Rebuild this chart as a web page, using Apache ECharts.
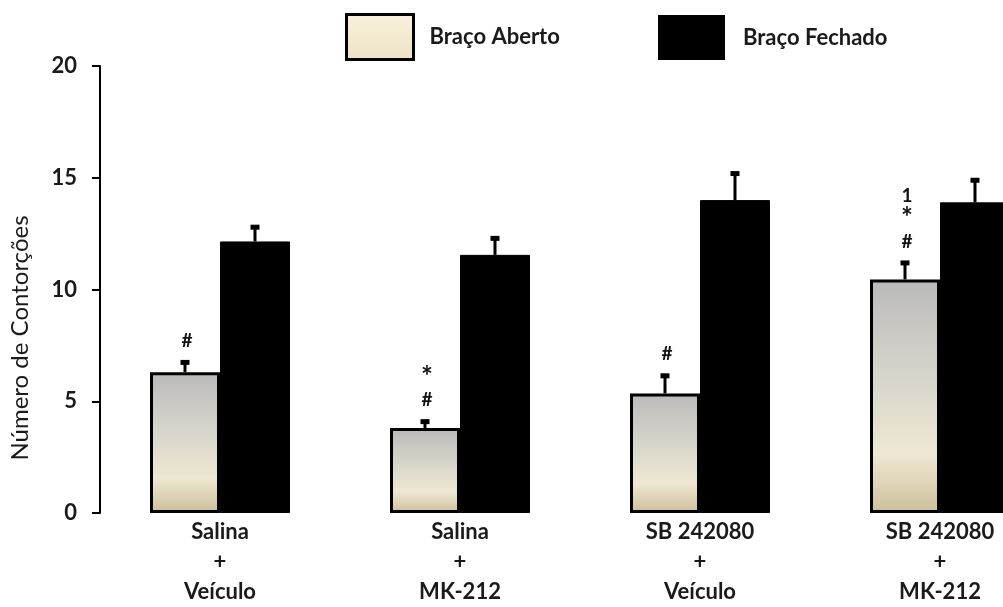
<!DOCTYPE html>
<html>
<head>
<meta charset="utf-8">
<script src="https://cdn.jsdelivr.net/npm/echarts@6/dist/echarts.min.js"></script>
<style>
  html, body { margin: 0; padding: 0; background: #ffffff; }
  #chart { width: 1003px; height: 607px; }
</style>
</head>
<body>
<div id="chart"></div>
<script>
// Treatment groups (category labels, three lines each)
const groups = ['Salina\n+\nVeículo', 'Salina\n+\nMK-212', 'SB 242080\n+\nVeículo', 'SB 242080\n+\nMK-212'];
// Braço Aberto: mean and SEM
const abertoMean = [6.3, 3.8, 5.35, 10.45];
const abertoSem = [0.55, 0.4, 0.9, 0.85];
// Braço Fechado: mean and SEM
const fechadoMean = [12.15, 11.55, 14.0, 13.9];
const fechadoSem = [0.75, 0.85, 1.3, 1.1];
// Significance marks above the open-arm bars (top to bottom)
const marks = [['#'], ['*', '#'], ['#'], ['1', '*', '#']];
// Value axis range
const yMin = 0, yMax = 20, yStep = 5;

const FONT = 'Lato, "Open Sans", sans-serif';
const BAR_W = 70;

const abertoFill = new echarts.graphic.LinearGradient(0, 0, 0, 1, [
  { offset: 0, color: '#bababa' },
  { offset: 0.45, color: '#d9d7cc' },
  { offset: 0.75, color: '#eee7d3' },
  { offset: 1, color: '#cdbf9b' }
]);
const legendAbertoFill = new echarts.graphic.LinearGradient(0, 0, 0, 1, [
  { offset: 0, color: '#f7f1df' },
  { offset: 1, color: '#eee2c3' }
]);

function errorBarItem(side) {
  return function (params, api) {
    const idx = api.value(0);
    const base = api.coord([idx, api.value(1)]);
    const top = api.coord([idx, api.value(1) + api.value(2)]);
    const x = base[0] + side * BAR_W / 2;
    return {
      type: 'group',
      children: [
        { type: 'line', shape: { x1: x, y1: base[1], x2: x, y2: top[1] + 2 },
          style: { stroke: '#000', lineWidth: 3 } },
        { type: 'rect', shape: { x: x - 4.5, y: top[1], width: 9, height: 5 },
          style: { fill: '#000' } }
      ]
    };
  };
}

const chart = echarts.init(document.getElementById('chart'));
chart.setOption({
  animation: false,
  backgroundColor: '#ffffff',
  grid: { left: 100, width: 960, top: 66, bottom: 94, containLabel: false, outerBoundsMode: 'none' },
  legend: [
    {
      left: 345, top: 13, padding: 0, itemWidth: 67, itemHeight: 45, itemGap: 0,
      selectedMode: false,
      textStyle: { fontFamily: FONT, fontSize: 22, fontWeight: 'bold', color: '#1a1a1a', padding: [0, 0, 0, 11] },
      data: [{ name: 'Braço Aberto', icon: 'rect',
               itemStyle: { color: legendAbertoFill, borderColor: '#000', borderWidth: 3 } }]
    },
    {
      left: 658, top: 15, padding: 0, itemWidth: 67, itemHeight: 45, itemGap: 0,
      selectedMode: false,
      textStyle: { fontFamily: FONT, fontSize: 22, fontWeight: 'bold', color: '#1a1a1a', padding: [0, 0, 0, 13] },
      data: [{ name: 'Braço Fechado', icon: 'rect',
               itemStyle: { color: '#000', borderWidth: 0 } }]
    }
  ],
  xAxis: {
    type: 'category',
    data: groups,
    axisLine: { show: false },
    axisTick: { show: false },
    axisLabel: {
      margin: 4, interval: 0,
      fontFamily: FONT, fontSize: 22, fontWeight: 'bold', color: '#1a1a1a',
      lineHeight: 30
    }
  },
  yAxis: {
    type: 'value',
    min: yMin, max: yMax, interval: yStep,
    axisLine: { show: true, lineStyle: { color: '#000', width: 2 } },
    axisTick: { show: true, inside: false, length: 8, lineStyle: { color: '#000', width: 2 } },
    splitLine: { show: false },
    axisLabel: { margin: 23, fontFamily: FONT, fontSize: 22, fontWeight: 'bold', color: '#1a1a1a' }
  },
  graphic: [{
    type: 'text',
    x: 20, y: 338,
    rotation: Math.PI / 2,
    style: {
      text: 'Número de Contorções',
      font: '24px ' + FONT,
      fill: '#1a1a1a',
      align: 'center',
      verticalAlign: 'middle'
    }
  }],
  series: [
    {
      name: 'Braço Aberto', type: 'bar', data: abertoMean,
      barWidth: BAR_W, barGap: '0%',
      itemStyle: { color: abertoFill, borderColor: '#000', borderWidth: 3 }
    },
    {
      name: 'Braço Fechado', type: 'bar', data: fechadoMean,
      barWidth: BAR_W, barGap: '0%',
      itemStyle: { color: '#000', borderColor: '#000', borderWidth: 1 }
    },
    {
      type: 'custom', z: 5, silent: true,
      data: abertoMean.map((v, i) => [i, v, abertoSem[i]]),
      renderItem: errorBarItem(-1)
    },
    {
      type: 'custom', z: 5, silent: true,
      data: fechadoMean.map((v, i) => [i, v, fechadoSem[i]]),
      renderItem: errorBarItem(1)
    },
    {
      type: 'custom', z: 6, silent: true,
      data: abertoMean.map((v, i) => [i, v + abertoSem[i]]),
      renderItem: function (params, api) {
        const idx = api.value(0);
        const p = api.coord([idx, api.value(1)]);
        const x = p[0] - BAR_W / 2 + 2;
        const list = marks[params.dataIndex];
        const children = list.map((m, k) => ({
          type: 'text',
          x: x,
          y: p[1] - 19 - (list.length - 1 - k) * 23,
          style: {
            text: m,
            font: (m === '*' ? 'bold 28px ' : 'bold 19px ') + FONT,
            fill: '#111',
            align: 'center',
            verticalAlign: 'middle'
          }
        }));
        return { type: 'group', children: children };
      }
    }
  ]
});
</script>
</body>
</html>
